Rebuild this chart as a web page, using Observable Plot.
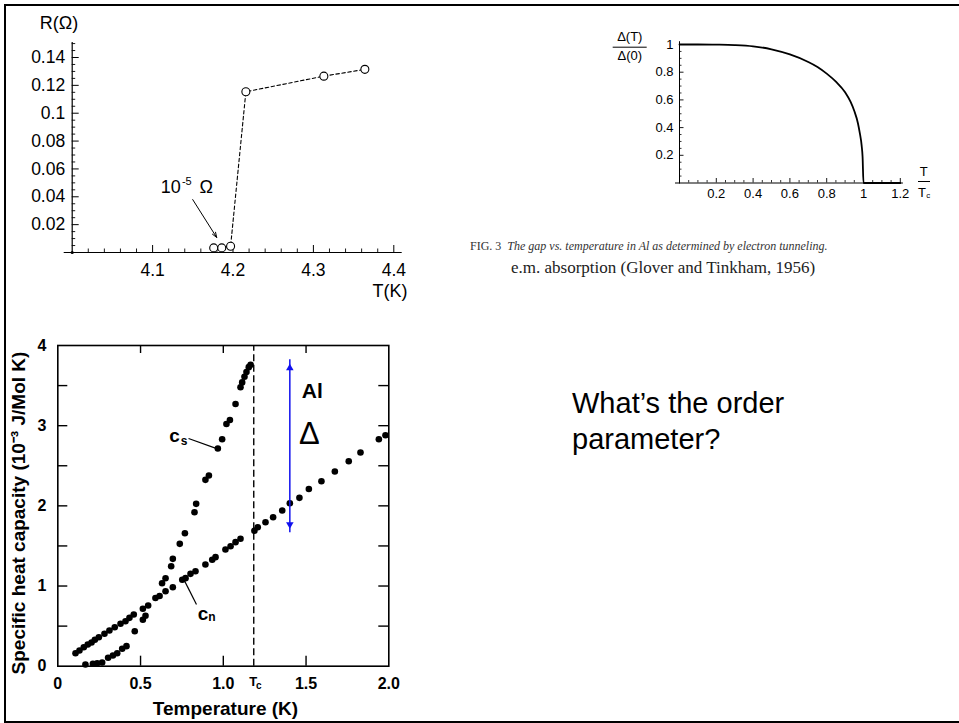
<!DOCTYPE html>
<html><head><meta charset="utf-8">
<script src="https://cdn.jsdelivr.net/npm/d3@7"></script>
<script src="https://cdn.jsdelivr.net/npm/@observablehq/plot@0.6"></script>
<style>
body{margin:0;background:#fff;}
#slide{position:relative;width:959px;height:723px;overflow:hidden;font-family:"Liberation Sans",Arial,sans-serif;background:#fff;}
#slide svg{position:absolute;left:0;top:0;}
.frame{position:absolute;left:4px;top:4px;width:970px;height:715px;border-top:2.5px solid #000;border-left:2.5px solid #000;border-bottom:2.5px solid #000;}
.cap1{position:absolute;left:470px;top:240px;font:italic 12px "Liberation Serif","Times New Roman",serif;white-space:nowrap;line-height:12px;color:#333;}
.cap1 span{font-style:normal;}
.cap2{position:absolute;left:511px;top:259px;font:17px "Liberation Serif","Times New Roman",serif;white-space:nowrap;line-height:17px;color:#222;}
.question{position:absolute;left:572px;top:385px;font-size:29px;line-height:36px;color:#000;}
</style>
</head><body>
<div id="slide">
  <div class="frame"></div>
  <div class="cap1"><span>FIG. 3</span>&nbsp; The gap vs. temperature in Al as determined by electron tunneling.</div>
  <div class="cap2">e.m. absorption (Glover and Tinkham, 1956)</div>
  <div class="question">What’s the order<br>parameter?</div>
</div>
<script>
// ---------- Panel A: resistance vs temperature ----------
const resT = [4.176, 4.186, 4.197, 4.216, 4.313, 4.364];
const resR = [0.0033, 0.0033, 0.0045, 0.1154, 0.1266, 0.1315];
const resXTicks = [4.1, 4.2, 4.3, 4.4];
const resXLabels = ["4.1", "4.2", "4.3", "4.4"];
const resYTicks = [0.02, 0.04, 0.06, 0.08, 0.1, 0.12, 0.14];
const resYLabels = ["0.02", "0.04", "0.06", "0.08", "0.1", "0.12", "0.14"];
const resAnnotArrow = {x1: 4.1499, y1: 0.038, x2: 4.1797, y2: 0.0108};
const resAnnotBase = {T: 4.1226, R: 0.0467};

// ---------- Panel B: BCS gap vs reduced temperature ----------
const gapT = [0, 0.1, 0.2, 0.3, 0.4, 0.5, 0.6, 0.7, 0.75, 0.8, 0.85, 0.9, 0.93, 0.95, 0.97, 0.98, 0.99, 0.995, 1.0, 1.2];
const gapD = [1, 1, 0.999, 0.996, 0.987, 0.965, 0.928, 0.874, 0.838, 0.79, 0.732, 0.655, 0.585, 0.52, 0.43, 0.36, 0.27, 0.19, 0, 0];
const gapXTicks = [0.2, 0.4, 0.6, 0.8, 1, 1.2];
const gapXLabels = ["0.2", "0.4", "0.6", "0.8", "1", "1.2"];
const gapYTicks = [0.2, 0.4, 0.6, 0.8, 1];
const gapYLabels = ["0.2", "0.4", "0.6", "0.8", "1"];

// ---------- Panel C: specific heat of Al ----------
const cnT = [0.107, 0.131, 0.157, 0.181, 0.204, 0.224, 0.248, 0.282, 0.312, 0.344, 0.379, 0.409, 0.433, 0.459, 0.514, 0.546, 0.59, 0.615, 0.651, 0.695, 0.752, 0.772, 0.802, 0.832, 0.892, 0.933, 0.953, 1.013, 1.044, 1.074, 1.104, 1.188, 1.208, 1.255, 1.301, 1.356, 1.402, 1.46, 1.517, 1.593, 1.674, 1.758, 1.829, 1.94, 1.98];
const cnC = [0.162, 0.196, 0.237, 0.27, 0.295, 0.329, 0.362, 0.404, 0.445, 0.486, 0.529, 0.561, 0.603, 0.645, 0.716, 0.757, 0.85, 0.875, 0.935, 0.985, 1.078, 1.098, 1.152, 1.185, 1.268, 1.327, 1.36, 1.455, 1.497, 1.547, 1.589, 1.69, 1.733, 1.796, 1.858, 1.942, 2.033, 2.1, 2.21, 2.307, 2.428, 2.556, 2.665, 2.83, 2.88];
const csT = [0.167, 0.212, 0.238, 0.268, 0.304, 0.333, 0.359, 0.389, 0.415, 0.465, 0.514, 0.53, 0.63, 0.651, 0.685, 0.695, 0.737, 0.768, 0.826, 0.836, 0.892, 0.913, 0.967, 0.993, 1.019, 1.04, 1.074, 1.104, 1.114, 1.128, 1.14, 1.154, 1.165];
const csC = [0.021, 0.03, 0.037, 0.046, 0.105, 0.133, 0.162, 0.217, 0.25, 0.436, 0.58, 0.63, 1.035, 1.097, 1.247, 1.339, 1.526, 1.658, 1.92, 2.025, 2.324, 2.378, 2.715, 2.83, 3.02, 3.07, 3.27, 3.48, 3.54, 3.61, 3.67, 3.73, 3.76];
const heatXTicks = [0, 0.5, 1.0, 1.5, 2.0];
const heatXLabels = ["0", "0.5", "1.0", "1.5", "2.0"];
const heatYTicks = [0, 1, 2, 3, 4];
const heatYLabels = ["0", "1", "2", "3", "4"];
const Tc = 1.184;
const gapArrow = {T: 1.402, low: 1.714, high: 3.772};
const csLeader = {x1: 0.79, y1: 2.84, x2: 0.965, y2: 2.71};
const cnLeader = {x1: 0.762, y1: 1.08, x2: 0.838, y2: 0.77};

const W = 959, H = 723;
const sans = '"Liberation Sans", Arial, sans-serif';
const narrow = '"Liberation Sans Narrow", "Arial Narrow", "Liberation Sans", Arial, sans-serif';
const baseStyle = {background: "transparent", overflow: "visible", fontFamily: sans, color: "black"};
const slide = document.getElementById("slide");
const excl = (arr, majors) => arr.filter(v => !majors.some(m => Math.abs(m - v) < 1e-9));
const mid = {textAnchor: "middle", lineAnchor: "middle"};

// ---- Panel A ----
{
  const left = 71.7, right = 393.3, top = 57, bottom = 252;
  const kx = (right - left) / 0.4, ky = (bottom - top) / 0.14;
  const data = resT.map((T, i) => ({T, R: resR[i]}));
  const minorX = excl(d3.range(1, 21).map(i => +(4 + i * 0.02).toFixed(3)), resXTicks);
  const minorY = excl(d3.range(1, 31).map(i => +(i * 0.005).toFixed(4)), resYTicks);
  const p = Plot.plot({
    width: W, height: H,
    marginLeft: left, marginRight: W - right, marginTop: top, marginBottom: H - bottom,
    x: {domain: [4.0, 4.4], axis: null},
    y: {domain: [0, 0.14], axis: null},
    style: baseStyle,
    marks: [
      Plot.ruleY([0], {x1: 4.0 - 8 / kx, x2: 4.0 + 330 / kx, strokeWidth: 1.2}),
      Plot.ruleX([4.0], {y1: 0, y2: 210 / ky, strokeWidth: 1.2}),
      Plot.ruleX(minorX, {x: d => d, y1: 0, y2: 3.5 / ky, strokeWidth: 0.9}),
      Plot.ruleX(resXTicks, {x: d => d, y1: 0, y2: 7 / ky, strokeWidth: 1}),
      Plot.ruleY(minorY, {y: d => d, x1: 4.0, x2: 4.0 + 3.5 / kx, strokeWidth: 0.9}),
      Plot.ruleY(resYTicks, {y: d => d, x1: 4.0, x2: 4.0 + 7 / kx, strokeWidth: 1}),
      Plot.dot([{T: 4.0, R: 0}], {x: "T", y: "R", r: 1.6, fill: "black"}),
      Plot.text(resXTicks, {x: d => d, y: 0, dy: 17.5, text: (d, i) => resXLabels[i], fontSize: 17.5}),
      Plot.text(resYTicks, {x: 4.0, y: d => d, dx: -7, textAnchor: "end", text: (d, i) => resYLabels[i], fontSize: 17.5}),
      Plot.line(data, {x: "T", y: "R", strokeDasharray: "3.5,2.5", strokeWidth: 1.1}),
      Plot.dot(data, {x: "T", y: "R", r: 4, fill: "white", stroke: "black", strokeWidth: 1.1}),
      Plot.text(["R(Ω)"], {frameAnchor: "top-left", ...mid, dx: -13.2, dy: -34.5, fontSize: 18}),
      Plot.text(["T(K)"], {frameAnchor: "bottom-right", ...mid, dx: -3.8, dy: 39, fontSize: 18}),
      Plot.text(["10"], {x: resAnnotBase.T, y: resAnnotBase.R, fontSize: 18}),
      Plot.text(["-5"], {x: resAnnotBase.T, y: resAnnotBase.R, dx: 16, dy: -6, fontSize: 11}),
      Plot.text(["Ω"], {x: resAnnotBase.T, y: resAnnotBase.R, dx: 35.5, fontSize: 18}),
      Plot.arrow([resAnnotArrow], {x1: "x1", y1: "y1", x2: "x2", y2: "y2", strokeWidth: 1, headLength: 8, headAngle: 40})
    ]
  });
  slide.appendChild(p);
}

// ---- Panel B ----
{
  const left = 679, right = 899.8, top = 44, bottom = 182.5;
  const kx = (right - left) / 1.2, ky = (bottom - top) / 1;
  const data = gapT.map((t, i) => ({t, d: gapD[i]}));
  const minorX = excl(d3.range(1, 25).map(i => +(i * 0.05).toFixed(3)), gapXTicks);
  const minorY = excl(d3.range(1, 21).map(i => +(i * 0.05).toFixed(3)), gapYTicks);
  const p = Plot.plot({
    width: W, height: H,
    marginLeft: left, marginRight: W - right, marginTop: top, marginBottom: H - bottom,
    x: {domain: [0, 1.2], axis: null},
    y: {domain: [0, 1], axis: null},
    style: baseStyle,
    marks: [
      Plot.ruleY([0], {x1: -4 / kx, x2: 1.217, strokeWidth: 1}),
      Plot.ruleX([0], {y1: -1 / ky, y2: 1.02, strokeWidth: 1}),
      Plot.ruleX(minorX, {x: d => d, y1: 0, y2: 2.5 / ky, strokeWidth: 0.8}),
      Plot.ruleX(gapXTicks, {x: d => d, y1: 0, y2: 4.5 / ky, strokeWidth: 0.9}),
      Plot.ruleY(minorY, {y: d => d, x1: 0, x2: 2.5 / kx, strokeWidth: 0.8}),
      Plot.ruleY(gapYTicks, {y: d => d, x1: 0, x2: 4.5 / kx, strokeWidth: 0.9}),
      Plot.text(gapXTicks, {x: d => d, y: 0, dy: 11, text: (d, i) => gapXLabels[i], fontSize: 13}),
      Plot.text(gapYTicks, {x: 0, y: d => d, dx: -6, textAnchor: "end", text: (d, i) => gapYLabels[i], fontSize: 13}),
      Plot.line(data, {x: "t", y: "d", strokeWidth: 1.8, curve: "monotone-x"}),
      Plot.text(["Δ(T)"], {frameAnchor: "top-left", ...mid, dx: -49.7, dy: -7.5, fontSize: 13}),
      Plot.ruleY([1], {x1: -66.3 / kx, x2: -32.3 / kx, dy: 2.7, strokeWidth: 1}),
      Plot.text(["Δ(0)"], {frameAnchor: "top-left", ...mid, dx: -49.7, dy: 11, fontSize: 13}),
      Plot.text(["T"], {frameAnchor: "bottom-right", ...mid, dx: 23.5, dy: -10.8, fontSize: 13}),
      Plot.ruleY([0], {x1: 1.2 + 18.2 / kx, x2: 1.2 + 30.2 / kx, dy: -1.5, strokeWidth: 1}),
      Plot.text(["T"], {frameAnchor: "bottom-right", ...mid, dx: 21.7, dy: 9.5, fontSize: 13}),
      Plot.text(["c"], {frameAnchor: "bottom-right", ...mid, dx: 28, dy: 12, fontSize: 8})
    ]
  });
  slide.appendChild(p);
}

// ---- Panel C ----
{
  const left = 57.3, right = 388.3, top = 345, bottom = 665.7;
  const kx = (right - left) / 2, ky = (bottom - top) / 4;
  const cn = cnT.map((T, i) => ({T, C: cnC[i]}));
  const cs = csT.map((T, i) => ({T, C: csC[i]}));
  const halfY = [0.5, 1, 1.5, 2, 2.5, 3, 3.5];
  const halfX = [0.5, 1, 1.5];
  const blue = "#1010ee";
  const p = Plot.plot({
    width: W, height: H,
    marginLeft: left, marginRight: W - right, marginTop: top, marginBottom: H - bottom,
    x: {domain: [0, 2], axis: null},
    y: {domain: [0, 4], axis: null},
    style: baseStyle,
    marks: [
      Plot.frame({strokeWidth: 1.6}),
      Plot.ruleY(halfY, {y: d => d, x1: 0, x2: 10 / kx, strokeWidth: 1.4}),
      Plot.ruleY(halfY, {y: d => d, x1: 2 - 10 / kx, x2: 2, strokeWidth: 1.4}),
      Plot.ruleX(halfX, {x: d => d, y1: 0, y2: 10 / ky, strokeWidth: 1.4}),
      Plot.ruleX(halfX, {x: d => d, y1: 4 - 8 / ky, y2: 4, strokeWidth: 1.4}),
      Plot.ruleX([Tc], {y1: 0, y2: 4, strokeDasharray: "7,3.5", strokeWidth: 1.4}),
      Plot.dot(cn, {x: "T", y: "C", r: 3.3, fill: "black"}),
      Plot.dot(cs, {x: "T", y: "C", r: 3.3, fill: "black"}),
      Plot.link([csLeader], {x1: "x1", y1: "y1", x2: "x2", y2: "y2", strokeWidth: 1.2}),
      Plot.link([cnLeader], {x1: "x1", y1: "y1", x2: "x2", y2: "y2", strokeWidth: 1.2}),
      Plot.text(["c"], {x: csLeader.x1, y: csLeader.y1, dx: -14, dy: -3, fontSize: 19, fontWeight: "bold"}),
      Plot.text(["s"], {x: csLeader.x1, y: csLeader.y1, dx: -4.5, dy: 3, fontSize: 12, fontWeight: "bold"}),
      Plot.text(["c"], {x: cnLeader.x2, y: cnLeader.y2, dx: 6.5, dy: 9, fontSize: 19, fontWeight: "bold"}),
      Plot.text(["n"], {x: cnLeader.x2, y: cnLeader.y2, dx: 15.5, dy: 13, fontSize: 12, fontWeight: "bold"}),
      Plot.text(heatXTicks, {x: d => d, y: 0, dy: 17.5, text: (d, i) => heatXLabels[i], fontSize: 16, fontWeight: "bold", fontFamily: narrow}),
      Plot.text(heatYTicks, {x: 0, y: d => d, dx: -11.5, textAnchor: "end", text: (d, i) => heatYLabels[i], fontSize: 16, fontWeight: "bold", fontFamily: narrow}),
      Plot.text(["T"], {x: Tc, y: 0, dx: -0.5, dy: 15.5, fontSize: 13, fontWeight: "bold", fontFamily: narrow}),
      Plot.text(["c"], {x: Tc, y: 0, dx: 5, dy: 19.5, fontSize: 10, fontWeight: "bold", fontFamily: narrow}),
      Plot.ruleX([gapArrow], {x: "T", y1: "low", y2: "high", stroke: blue, strokeWidth: 1.5, insetTop: 4, insetBottom: 4}),
      Plot.dot([gapArrow], {x: "T", y: "high", symbol: "triangle", r: 2.8, fill: blue, stroke: "none", dy: 4.3}),
      Plot.dot([gapArrow], {x: "T", y: "low", symbol: "triangle", r: 2.8, fill: blue, stroke: "none", rotate: 180, dy: -4.3}),
      Plot.text(["Al"], {x: gapArrow.T, y: gapArrow.high, dx: 22.5, dy: 27, fontSize: 21, fontWeight: "bold"}),
      Plot.text(["Δ"], {x: gapArrow.T, y: gapArrow.high, dx: 19.5, dy: 70.5, fontSize: 31}),
      Plot.text(["Specific heat capacity (10⁻³ J/Mol K)"], {frameAnchor: "left", ...mid, rotate: -90, dx: -39.3, dy: 7.2, fontSize: 19, fontWeight: "bold"}),
      Plot.text(["Temperature (K)"], {frameAnchor: "bottom", ...mid, dx: 2.2, dy: 42.3, fontSize: 19, fontWeight: "bold"})
    ]
  });
  slide.appendChild(p);
}
</script>
</body></html>
